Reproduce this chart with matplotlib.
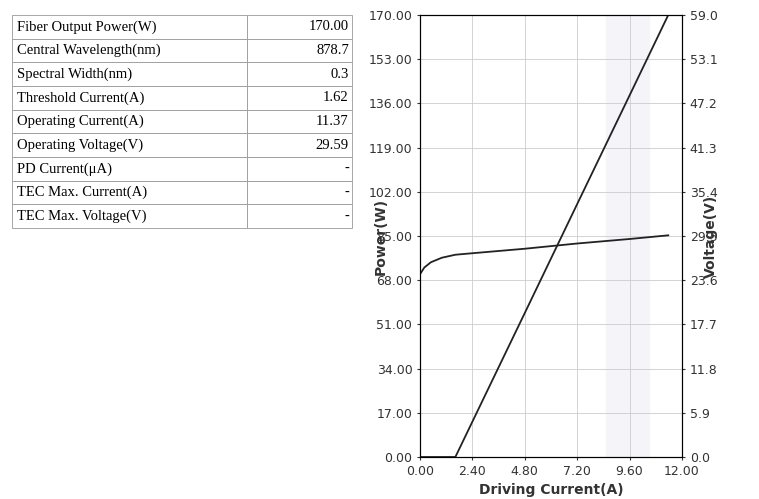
import matplotlib
matplotlib.use("Agg")
import matplotlib.pyplot as plt
import numpy as np

params = ["Fiber Output Power(W)", "Central Wavelength(nm)", "Spectral Width(nm)",
          "Threshold Current(A)", "Operating Current(A)", "Operating Voltage(V)",
          "PD Current(\u03bcA)", "TEC Max. Current(A)", "TEC Max. Voltage(V)"]
values = ["170.00", "878.7", "0.3", "1.62", "11.37", "29.59", "-", "-", "-"]

power_current = [0.0, 1.0, 1.62, 2.4, 4.8, 7.2, 9.6, 11.37]
power_w = [0.0, 0.0, 0.0, 13.6, 55.4, 97.3, 139.1, 170.0]
volt_current = [0.0, 0.2, 0.5, 1.0, 1.62, 2.4, 4.8, 7.2, 9.6, 11.37]
volt_v = [24.4, 25.3, 26.0, 26.6, 27.0, 27.2, 27.8, 28.5, 29.1, 29.59]

left_ticks = [0, 17, 34, 51, 68, 85, 102, 119, 136, 153, 170]
right_ticks = [0, 5.9, 11.8, 17.7, 23.6, 29.5, 35.4, 41.3, 47.2, 53.1, 59.0]
x_ticks = [0, 2.4, 4.8, 7.2, 9.6, 12.0]

fig = plt.figure(figsize=(7.59, 4.99), dpi=100)

tax = fig.add_axes([12/759, 1-228/499, 340/759, 213/499])
tax.axis("off")
tbl = tax.table(cellText=[[p, v] for p, v in zip(params, values)],
                colWidths=[0.69, 0.31], loc="upper left", bbox=[0, 0, 1, 1])
tbl.auto_set_font_size(False)
for (r, c), cell in tbl.get_celld().items():
    cell.set_edgecolor("#999999")
    cell.set_linewidth(0.6)
    cell.get_text().set_fontfamily("Liberation Serif")
    cell.get_text().set_fontsize(10.5)
    cell.get_text().set_ha("left" if c == 0 else "right")
    cell.PAD = 0.02 if c == 0 else 0.03

ax = fig.add_axes([420/759, 1-457/499, 262/759, 442/499])
ax.plot(power_current, power_w, color="#222222", lw=1.3)
ax.set_xlim(0, 12)
ax.set_ylim(0, 170)
ax.set_xticks(x_ticks)
ax.set_xticklabels([f"{t:.2f}" for t in x_ticks])
ax.set_yticks(left_ticks)
ax.set_yticklabels([f"{t:.2f}" for t in left_ticks])
ax.grid(True, color="#cccccc", lw=0.6)
ax.tick_params(labelsize=9, colors="#333333", length=2)
ax.set_xlabel("Driving Current(A)", fontsize=10, fontweight="bold", color="#333333")
ax.set_ylabel("Power(W)", fontsize=10, fontweight="bold", color="#333333", labelpad=-14)
ax.axvspan(8.5, 10.5, color="#f4f4f9", zorder=0)

ax2 = ax.twinx()
ax2.plot(volt_current, volt_v, color="#222222", lw=1.3)
ax2.set_ylim(0, 59)
ax2.set_yticks(right_ticks)
ax2.set_yticklabels([f"{t:.1f}" for t in right_ticks])
ax2.tick_params(labelsize=9, colors="#333333", length=2)
ax2.set_ylabel("Voltage(V)", fontsize=10, fontweight="bold", color="#333333", labelpad=-10)

fig.savefig("out.png", dpi=100)
